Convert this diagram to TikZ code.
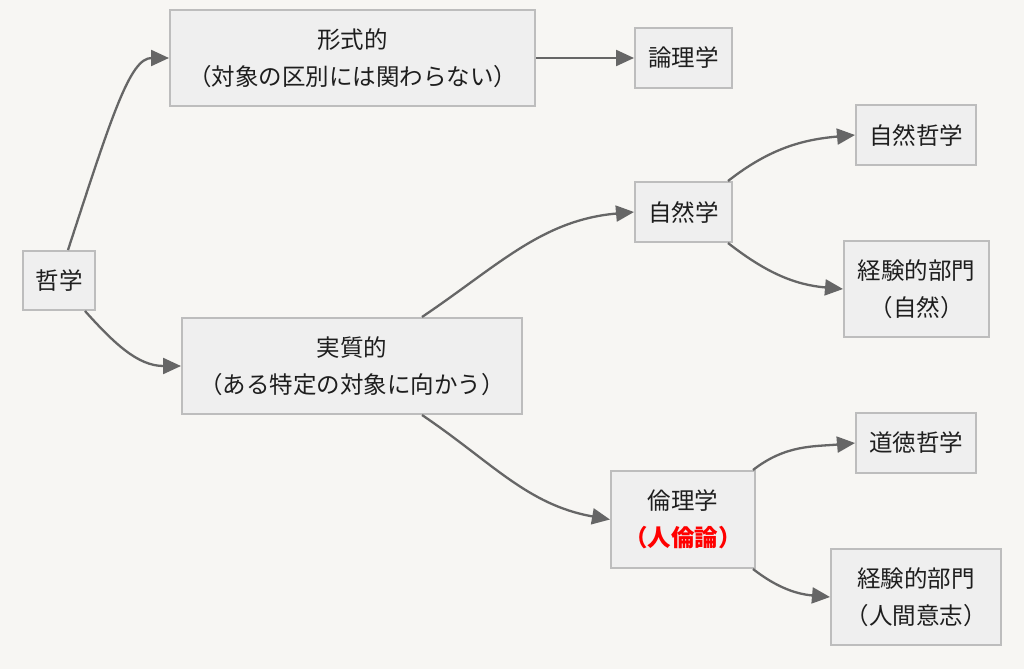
\documentclass[tikz,border=0pt]{standalone}
\usepackage{fontspec}
\setmainfont{Noto Sans CJK JP}
\usetikzlibrary{arrows.meta}
\definecolor{bg}{HTML}{F7F6F3}
\definecolor{boxfill}{HTML}{EFEFEF}
\definecolor{boxline}{HTML}{BDBDBD}
\definecolor{edgec}{HTML}{666666}
\definecolor{txt}{HTML}{1E1E1E}
\definecolor{redtxt}{HTML}{FF0000}
\tikzset{
  box/.style={draw=boxline, fill=boxfill, line width=2pt, inner sep=0pt,
    align=center, text=txt, font=\fontsize{23.5}{37}\selectfont},
  edge/.style={draw=edgec, line width=2.3pt,
    -{Triangle[length=18pt,width=16pt]}},
}
\begin{document}
\begin{tikzpicture}[x=1pt,y=-1pt]
\useasboundingbox[fill=bg] (0,0) rectangle (1024,669);
\node[box, minimum width=72pt, minimum height=59pt] (phil) at (59,280.5) {哲学};
\node[box, minimum width=365pt, minimum height=96pt] (form) at (352.5,58) {形式的\\（対象の区別には関わらない）};
\node[box, minimum width=97pt, minimum height=60pt] (logic) at (683.5,58) {論理学};
\node[box, minimum width=340pt, minimum height=96pt] (mat) at (352,366) {実質的\\（ある特定の対象に向かう）};
\node[box, minimum width=97pt, minimum height=60pt] (nat) at (683.5,212) {自然学};
\node[box, minimum width=120pt, minimum height=60pt] (natphil) at (916,135) {自然哲学};
\node[box, minimum width=145pt, minimum height=96pt] (empnat) at (916.5,289) {経験的部門\\（自然）};
\node[box, minimum width=144pt, minimum height=97pt] (eth) at (683,519.5) {倫理学\\{\color{redtxt}\bfseries （人倫論）}};
\node[box, minimum width=120pt, minimum height=60pt] (moral) at (916,443) {道徳哲学};
\node[box, minimum width=170pt, minimum height=96pt] (empwill) at (916,597) {経験的部門\\（人間意志）};

\draw[edge] ([xshift=9pt]phil.north) .. controls (112,115) and (130,58) .. (form.west);
\draw[edge] ([xshift=-11pt]phil.south east) to[out=-48,in=180] (mat.west);
\draw[edge] (form.east) -- (logic.west);
\draw[edge] ([xshift=70pt]mat.north) to[out=34,in=185] (nat.west);
\draw[edge] ([xshift=70pt]mat.south) to[out=-34,in=170] (eth.west);
\draw[edge] ([xshift=-5pt]nat.north east) to[out=38,in=185] (natphil.west);
\draw[edge] ([xshift=-5pt]nat.south east) to[out=-38,in=175] (empnat.west);
\draw[edge] ([xshift=-3pt]eth.north east) to[out=38,in=185] (moral.west);
\draw[edge] ([xshift=-3pt]eth.south east) to[out=-38,in=175] (empwill.west);
\end{tikzpicture}
\end{document}
